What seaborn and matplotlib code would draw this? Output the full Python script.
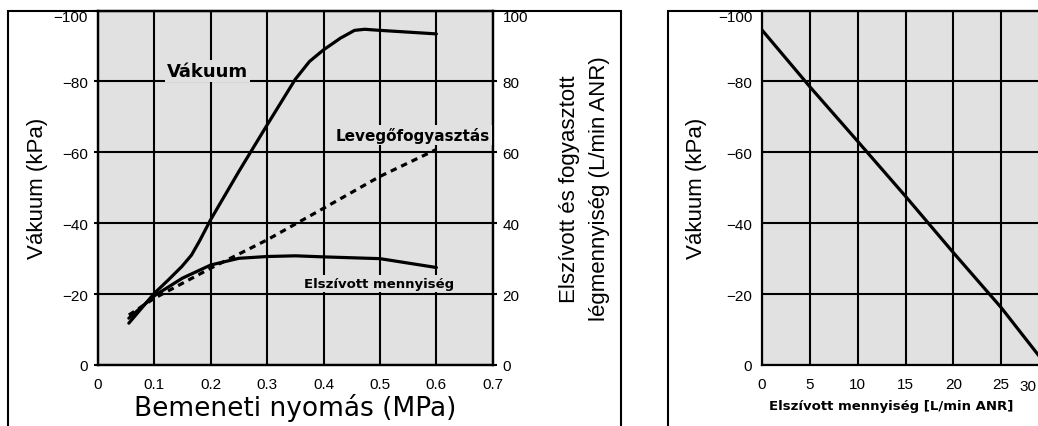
import matplotlib
matplotlib.use("Agg")
import matplotlib.pyplot as plt
import seaborn as sns
import numpy as np
import pandas as pd
from matplotlib.patches import Rectangle
from matplotlib import font_manager

# ---------------- data ----------------
# Left chart: x = inlet pressure (MPa)
vac_x = [0.055, 0.10, 0.125, 0.149, 0.166, 0.18, 0.20, 0.25, 0.30, 0.35, 0.375, 0.40, 0.43, 0.455, 0.473, 0.50, 0.60]
vac_y = [-11.8, -20.2, -24.0, -27.8, -31.0, -34.9, -41.0, -54.6, -67.7, -80.6, -85.6, -88.9, -92.2, -94.4, -94.7, -94.4, -93.4]   # kPa

air_x = [0.055, 0.10, 0.20, 0.30, 0.40, 0.50, 0.60]
air_y = [14.1, 18.8, 27.3, 35.3, 44.2, 53.2, 60.8]   # L/min ANR

suc_x = [0.055, 0.10, 0.15, 0.20, 0.25, 0.30, 0.35, 0.40, 0.50, 0.60]
suc_y = [13.2, 19.5, 24.5, 28.2, 30.1, 30.6, 30.8, 30.5, 30.0, 27.5]   # L/min ANR

# Right chart: vacuum vs suction flow
flow_x = [0, 5, 10, 15, 20, 25, 29.7]
flow_vac = [-94.5, -78.5, -63.1, -47.6, -31.7, -16.2, 0.0]

x1_ticks = [0, 0.1, 0.2, 0.3, 0.4, 0.5, 0.6, 0.7]
x1_labels = ["0", "0.1", "0.2", "0.3", "0.4", "0.5", "0.6", "0.7"]
yl_ticks = [0, -20, -40, -60, -80, -100]
yl_labels = ["0", "\u221220", "\u221240", "\u221260", "\u221280", "\u2212100"]
yr_ticks = [0, 20, 40, 60, 80, 100]
yr_labels = ["0", "20", "40", "60", "80", "100"]
x2_ticks = [0, 5, 10, 15, 20, 25]
x2_labels = ["0", "5", "10", "15", "20", "25"]

# ---------------- style ----------------
sns.set_theme(style="white")
plt.rcParams["font.family"] = ["Liberation Sans", "DejaVu Sans"]
for k in ["text.color", "axes.labelcolor", "xtick.color", "ytick.color", "axes.edgecolor"]:
    plt.rcParams[k] = "black"
names = {f.name for f in font_manager.fontManager.ttflist}
if "Liberation Sans Narrow" in names:
    NARROW = ["Liberation Sans Narrow", "Liberation Sans"]
    nfs = 18.5
else:
    NARROW = ["Liberation Sans", "DejaVu Sans"]
    nfs = 16

BG = "#e1e1e1"
W, H = 1038, 427
fig = plt.figure(figsize=(W / 100, H / 100), dpi=100)
fig.patch.set_facecolor("white")

def style_axes(ax):
    ax.set_facecolor(BG)
    for s in ax.spines.values():
        s.set_color("black")
        s.set_linewidth(1.6)
    ax.grid(True, color="black", linewidth=1.5)
    ax.set_axisbelow(True)
    ax.tick_params(direction="out", length=3, width=1.5, colors="black",
                   labelsize=11, pad=4)

# ---------------- left chart ----------------
ax1 = fig.add_axes([97.8 / W, 61 / H, 395 / W, 354.5 / H])
style_axes(ax1)
ax1.set_xlim(0, 0.7)
ax1.set_ylim(0, -100)
ax1.set_xticks(x1_ticks, labels=x1_labels)
ax1.set_yticks(yl_ticks, labels=yl_labels)
ax1.get_yticklabels()[-1].set_va("top")
ax1.tick_params(axis="x", pad=6)

ax2 = ax1.twinx()
ax2.set_ylim(0, 100)
ax2.set_yticks(yr_ticks, labels=yr_labels)
ax2.get_yticklabels()[-1].set_va("top")
ax2.tick_params(direction="out", length=3, width=1.5, colors="black",
                labelsize=11, pad=4)
for s in ax2.spines.values():
    s.set_linewidth(1.6)
    s.set_color("black")

sns.lineplot(x=vac_x, y=vac_y, ax=ax1, color="black", linewidth=2.3,
             sort=False, estimator=None)
sns.lineplot(x=suc_x, y=suc_y, ax=ax2, color="black", linewidth=2.3,
             sort=False, estimator=None)
sns.lineplot(x=air_x, y=air_y, ax=ax2, color="black", linewidth=2.3,
             linestyle=(0, (2.0, 1.6)), sort=False, estimator=None)

ax1.set_xlabel("Bemeneti nyomás (MPa)", family=["DejaVu Sans"], fontsize=19,
               labelpad=1, color="black")
ax1.set_ylabel("Vákuum (kPa)", family=NARROW, fontsize=nfs, labelpad=4,
               color="black")
ax2.set_ylabel("Elszívott és fogyasztott\nlégmennyiség (L/min ANR)",
               family=NARROW, fontsize=nfs, labelpad=22, linespacing=1.6,
               color="black")

bb = dict(facecolor=BG, edgecolor="none", pad=1.5)
ax2.text(0.123, 83, "Vákuum", family=["DejaVu Sans"], fontsize=13,
         fontweight="bold", va="center", ha="left", bbox=bb, color="black")
ax2.text(0.695, 64.8, "Levegőfogyasztás", family=["DejaVu Sans"], fontsize=11,
         fontweight="bold", va="center", ha="right", bbox=bb, color="black")
ax2.text(0.366, 23.0, "Elszívott mennyiség", family=["DejaVu Sans"],
         fontsize=9.5, fontweight="bold", va="center", ha="left", bbox=bb,
         color="black")

# ---------------- right chart ----------------
ax3 = fig.add_axes([762 / W, 61 / H, 287 / W, 354.5 / H])
style_axes(ax3)
ax3.set_xlim(0, 30)
ax3.set_ylim(0, -100)
ax3.set_xticks(x2_ticks, labels=x2_labels)
ax3.set_yticks(yl_ticks, labels=yl_labels)
ax3.get_yticklabels()[-1].set_va("top")
ax3.tick_params(axis="x", pad=6)
sns.lineplot(x=flow_x, y=flow_vac, ax=ax3, color="black", linewidth=2.3,
             sort=False, estimator=None)
ax3.set_ylabel("Vákuum (kPa)", family=NARROW, fontsize=nfs, labelpad=8,
               color="black")
fig.text(1019 / W, 1 - 387 / H, "30", fontsize=11, ha="left", va="center",
         color="black")
fig.text(891 / W, 1 - 407 / H, "Elszívott mennyiség [L/min ANR]",
         family=["DejaVu Sans"], fontsize=9.5, fontweight="bold",
         ha="center", va="center", color="black")

# ---------------- frames ----------------
fig.patches.append(Rectangle((8 / W, -0.05), (621 - 8) / W, 1.05 - 11.5 / H,
                             transform=fig.transFigure, fill=False,
                             edgecolor="black", linewidth=1.5))
fig.patches.append(Rectangle((668 / W, -0.05), 0.5, 1.05 - 11.5 / H,
                             transform=fig.transFigure, fill=False,
                             edgecolor="black", linewidth=1.5))

fig.savefig("out.png", dpi=100)
